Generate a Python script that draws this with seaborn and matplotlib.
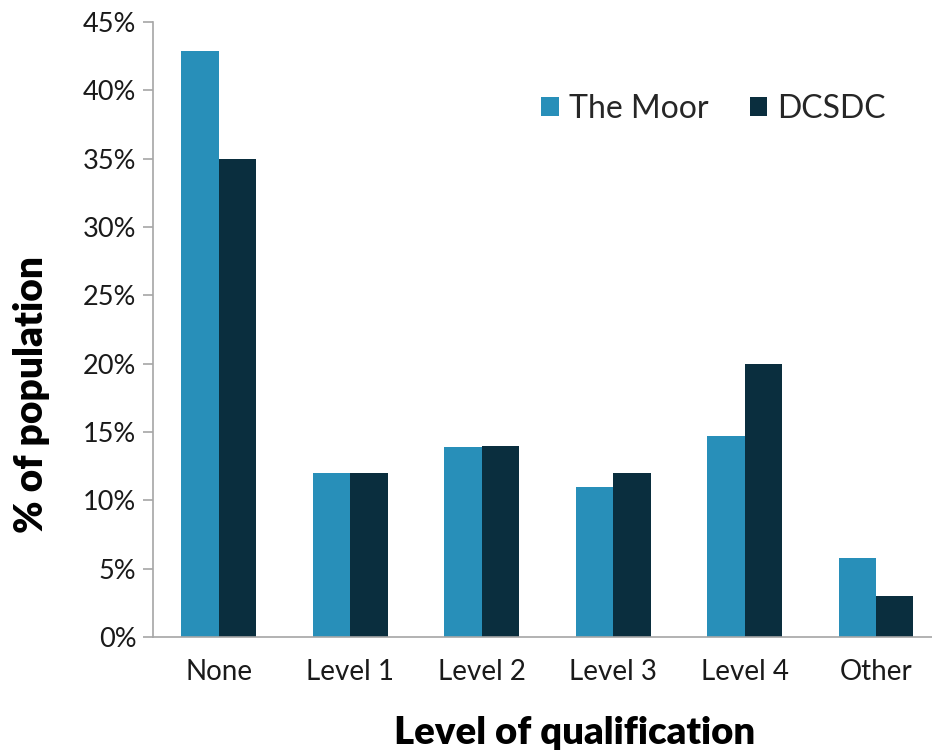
import matplotlib
matplotlib.use("Agg")
import matplotlib.pyplot as plt
import seaborn as sns
import pandas as pd
from matplotlib.ticker import PercentFormatter, MultipleLocator

categories = ["None", "Level 1", "Level 2", "Level 3", "Level 4", "Other"]
the_moor = [42.9, 12.0, 13.9, 11.0, 14.7, 5.8]
dcsdc = [35.0, 12.0, 14.0, 12.0, 20.0, 3.0]
series_names = ["The Moor", "DCSDC"]
colors = ["#288fb9", "#0a2e3e"]

df = pd.DataFrame({
    "Level": categories * 2,
    "Value": the_moor + dcsdc,
    "Area": [series_names[0]] * len(categories) + [series_names[1]] * len(categories),
})

sns.set_style("white")
plt.rcParams["font.family"] = ["Lato", "DejaVu Sans"]

fig = plt.figure(figsize=(9.32, 7.55), dpi=100)
ax_w = (941.7 - 153) / 932
ax = fig.add_axes([153 / 932, 1 - 637 / 755, ax_w, (637 - 22) / 755])

sns.barplot(data=df, x="Level", y="Value", hue="Area", palette=colors,
            width=0.57, ax=ax, saturation=1, errorbar=None, linewidth=0)

ax.set_ylim(0, 45)
ax.set_xlim(-0.5, len(categories) - 0.5)
ax.yaxis.set_major_locator(MultipleLocator(5))
ax.yaxis.set_major_formatter(PercentFormatter(decimals=0))

for s in ["top", "right"]:
    ax.spines[s].set_visible(False)
for s in ["left", "bottom"]:
    ax.spines[s].set_color("#a6a6a6")
    ax.spines[s].set_linewidth(1.2)

ax.tick_params(axis="y", which="major", left=True, length=7, width=1.2,
               color="#a6a6a6", labelsize=19.5, labelcolor="#1a1a1a", pad=5)
ax.tick_params(axis="x", bottom=False, labelsize=20, labelcolor="#1a1a1a", pad=12)

ax.set_xlabel("Level of qualification", fontsize=27.5, fontweight="heavy", color="black")
ax.set_ylabel("% of population", fontsize=28, fontweight="heavy", color="black")
ax.xaxis.set_label_coords((575 - 153) / (941.7 - 153), -0.128)
ax.yaxis.set_label_coords((50 - 153) / (941.7 - 153), (637 - 395) / 615)

handles, labels = ax.get_legend_handles_labels()
ax.legend(handles, labels, loc="upper left", bbox_to_anchor=(0.456, 0.93),
          ncol=2, frameon=False, fontsize=23, handlelength=0.55, handleheight=0.55,
          handletextpad=0.3, columnspacing=1.3)

fig.savefig("out.png", dpi=100)
